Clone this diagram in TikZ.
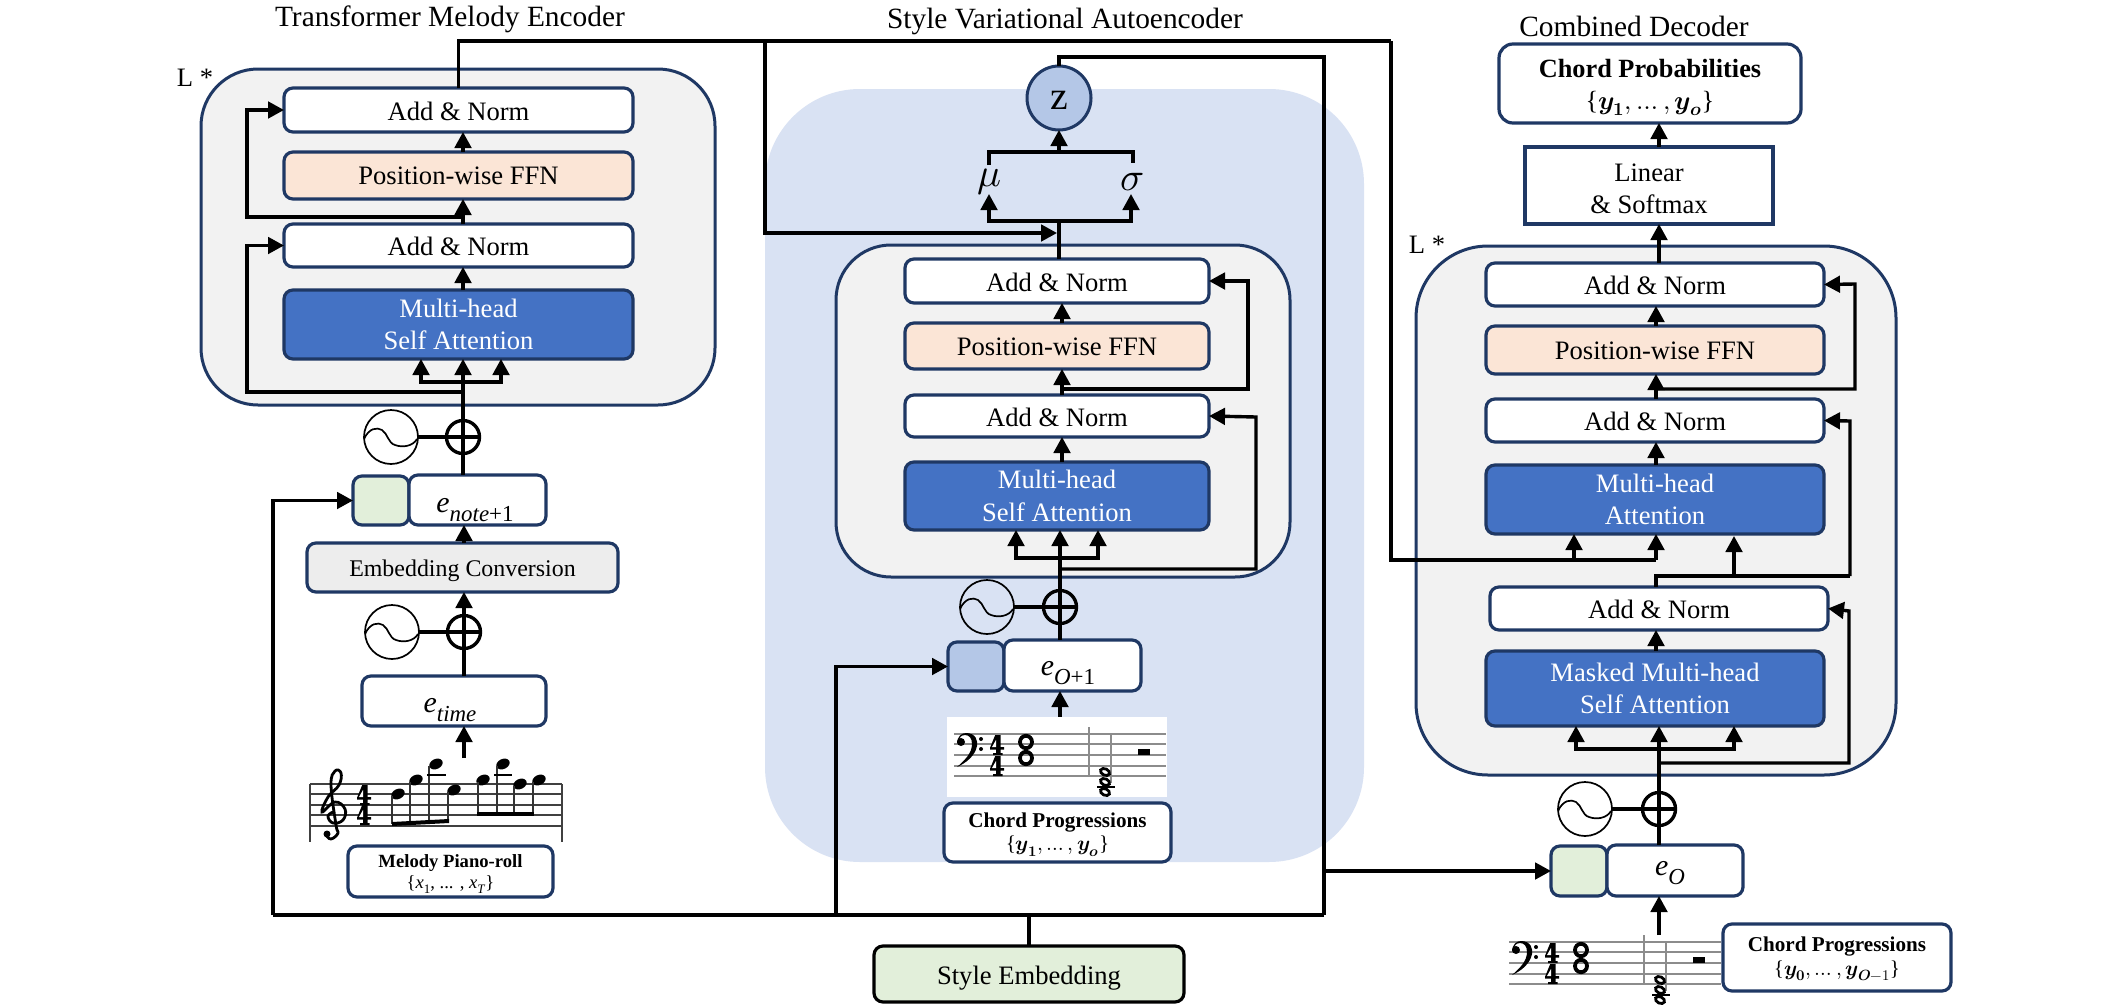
\documentclass[tikz,border=0pt]{standalone}
\usepackage{amsmath}
\usepackage{fontspec}
\usepackage{unicode-math}
\setmainfont{Liberation Serif}
\setmathfont{Latin Modern Math}
\usetikzlibrary{arrows.meta,calc,shapes.geometric}
\definecolor{navy}{HTML}{1F3864}
\definecolor{gpanel}{HTML}{F2F2F2}
\definecolor{bpanel}{HTML}{D9E2F3}
\definecolor{mha}{HTML}{4472C4}
\definecolor{ffn}{HTML}{FBE5D6}
\definecolor{lgreen}{HTML}{E2EFDA}
\definecolor{lblue}{HTML}{B4C7E7}
\definecolor{conv}{HTML}{EDEDED}
\definecolor{staff}{HTML}{8C8C8C}
\newcommand{\fs}[1]{\fontsize{#1}{#1}\selectfont}
\newcommand{\lowr}[2]{\raisebox{-.28em}{\fontsize{#1}{#1}\selectfont #2}}
\newcommand{\bx}[8][1.3]{\node[#7,minimum width={(#5-#3)*1bp},minimum height={(#6-#4)*1bp}] (#2) at ({(#3+#5)/2},{(#4+#6)/2}) {};
  \node[#7,draw=none,fill=none] (#2T) at ({(#3+#5)/2},{(#4+#6)/2+#1}) {#8};}
\newcommand{\oscn}[3]{\node[oscnode] (#1) at (#2,#3) {};
  \begin{scope}[shift={(#2,#3)}]
  \draw[line width=1.7bp] (-27,2) .. controls (-22,-9) and (-14,-10) .. (-9,-7) .. controls (-3,-3) and (-3,6) .. (4,8) .. controls (12,11) and (22,9) .. (26,2);
  \end{scope}}
\newcommand{\timefour}[2]{%
  \begin{scope}[shift={(#1,#2)}]
  \fill (5.2,0) -- (10.5,0) -- (10.5,12) -- (14,12) -- (14,14.5) -- (10.5,14.5) -- (10.5,18) -- (12.5,18) -- (12.5,20) -- (3,20) -- (3,18) -- (6,18) -- (6,14.5) -- (0,14.5) -- (0,12.8) -- cycle;
  \fill[white] (6,5) -- (6,12) -- (2,12) -- cycle;
  \end{scope}}
\newcommand{\chordscore}[2]{%
  \begin{scope}[shift={(#1,#2)}]
  \foreach \yy in {734,744,755,766,776} {\draw[staffline] (954,\yy) -- (1166,\yy);}
  \fill (957,744) .. controls (957,736) and (962,733) .. (966,733) .. controls (976,733) and (978,741) .. (977,746) .. controls (975,756) and (966,763) .. (957,767) .. controls (965,760) and (972,753) .. (972,744) .. controls (972,738) and (969,735) .. (965,735) .. controls (961,735) and (959,738) .. (959,740) -- cycle;
  \fill (961,742) circle[radius=4];
  \fill (981,739) circle[radius=2];
  \fill (981,749) circle[radius=2];
  \timefour{990}{735}
  \timefour{990}{756}
  \draw[line width=3.8bp] (1026,742) circle[x radius=6,y radius=6.2];
  \draw[line width=3.8bp] (1026,758) circle[x radius=6,y radius=6.2];
  \draw[staffline] (1089,727) -- (1089,776);
  \draw[staffline] (1111,733) -- (1111,783);
  \draw[line width=1.6bp] (1097,787) -- (1115,787);
  \foreach \yy in {772,782,792} {\draw[line width=2.8bp,rotate around={-25:(1105,\yy)}] (1105,\yy) circle[x radius=4.8,y radius=3.2];}
  \fill (1138,749) rectangle (1150,755);
  \end{scope}}
\tikzset{
  conn/.style={line width=3.4bp,black,line join=miter},
  arr/.style={conn,-{Triangle[length=16bp,width=16.5bp]}},
  base/.style={draw=navy,line width=3.2bp,rounded corners=9bp,inner sep=0pt,outer sep=0pt,align=center,font=\fs{26.7}},
  white box/.style={base,fill=white},
  ffn box/.style={base,fill=ffn},
  mha box/.style={base,fill=mha,text=white,font=\fontsize{26.7}{32.5}\selectfont},
  outer panel/.style={draw=navy,line width=3bp,fill=gpanel,inner sep=0pt,outer sep=0pt},
  plusnode/.style={circle,draw=black,line width=3.4bp,minimum size=33bp,inner sep=0pt,outer sep=0pt},
  oscnode/.style={circle,draw=black,line width=1.7bp,minimum size=54bp,inner sep=0pt,outer sep=0pt},
  staffline/.style={line width=1.6bp,staff},
  title/.style={font=\fs{29.5},inner sep=0pt},
  small label/.style={font=\fs{26.7},inner sep=0pt},
  emb text/.style={inner sep=0pt,font=\fs{30}},
}
\begin{document}
\begin{tikzpicture}[x=1bp,y=-1bp]
\useasboundingbox (0,0) rectangle (2108,1005);
\fill[white] (0,0) rectangle (2108,1005);

% titles
\node[title] (t1) at (450,19) {Transformer Melody Encoder};
\node[title] (t2) at (1065,21) {Style Variational Autoencoder};
\node[title] (t3) at (1634,26) {Combined Decoder};
\node[small label] (l1) at (195,78) {L *};
\node[small label] (l2) at (1427,245) {L *};

% panels
\bx{vPanel}{765}{89}{1364}{862}{fill=bpanel,rounded corners=95bp,inner sep=0pt,outer sep=0pt}{}
\bx{eOuter}{201}{69}{715}{405}{outer panel,rounded corners=57bp}{}
\bx{vOuter}{836}{245}{1290}{577}{outer panel,rounded corners=55bp}{}
\bx{dOuter}{1416}{246}{1896}{775}{outer panel,rounded corners=72bp}{}

% encoder boxes
\bx{eANa}{284}{88}{633}{132}{white box}{Add \& Norm}
\bx[0]{eFFN}{284}{152}{633}{199}{ffn box}{Position-wise FFN}
\bx{eANb}{284}{224}{633}{267}{white box}{Add \& Norm}
\bx[0]{eMHA}{284}{290}{633}{359}{mha box}{Multi-head\\Self Attention}
\bx{eStyle}{353}{476}{409}{525}{base,fill=lgreen}{}
\bx{eNote}{409}{475}{546}{525}{white box}{}
\bx[3.5]{eConv}{307}{543}{618}{592}{base,fill=conv,font=\fs{24}}{Embedding Conversion}
\bx{eTime}{362}{676}{546}{726}{white box}{}
\bx[2.7]{ePiano}{348}{846}{553}{897}{white box,font=\fontsize{18.7}{23}\selectfont}{\textbf{Melody Piano-roll}\\[-2.7bp]\{\textit{x}\lowr{13}{1}, ... , \textit{x}\lowr{13}{\textit{T}}\}}
\node[emb text] (eNoteT) at (475,510) {\textit{e}\lowr{23}{\textit{note}+1}};
\node[emb text] (eTimeT) at (450,710) {\textit{e}\lowr{23}{\textit{time}}};
\oscn{eOsc}{391}{437}
\node[plusnode] (ePlus) at (463,437) {};
\oscn{eOscb}{392}{632}
\node[plusnode] (ePlusb) at (464,632) {};

% VAE boxes
\bx{vANa}{905}{259}{1209}{303}{white box}{Add \& Norm}
\bx{vFFN}{905}{323}{1209}{369}{ffn box}{Position-wise FFN}
\bx{vANb}{905}{395}{1209}{437}{white box}{Add \& Norm}
\bx[0]{vMHA}{905}{462}{1209}{530}{mha box}{Multi-head\\Self Attention}
\bx{vStyle}{948}{642}{1004}{691}{base,fill=lblue}{}
\bx{vEmb}{1004}{640}{1141}{691}{white box}{}
\node[emb text] (vEmbT) at (1068,673) {\textit{e}\lowr{23}{\textit{O}+1}};
\node[fill=white,minimum width=220bp,minimum height=80bp,inner sep=0pt] (vScore) at (1057,757) {};
\bx[2]{vChord}{944}{803}{1171}{862}{white box,font=\fontsize{21.2}{28}\selectfont}{\textbf{Chord Progressions}\\[-4.6bp]\{$\symbfit{y}_{\symbf{1}},\dots,\symbfit{y}_{\symbfit{o}}$\}}
\oscn{vOsc}{987}{607}
\node[plusnode] (vPlus) at (1060,607) {};
\node[circle,draw=navy,line width=3bp,fill=lblue,minimum size=64bp,inner sep=0pt,outer sep=0pt] (z) at (1059,98) {};
\node[inner sep=0pt,font=\fs{40}] (zT) at (1059,100) {z};
\node[inner sep=0pt,font=\fs{40}] (mu) at (990,182) {$\mu$};
\node[inner sep=0pt,font=\fs{40}] (sig) at (1132,182) {$\sigma$};
\bx[4]{style}{874}{946}{1184}{1002}{base,draw=black,fill=lgreen}{Style Embedding}

% decoder boxes
\bx[4]{dProb}{1499}{44}{1801}{123}{white box,rounded corners=14bp,font=\fontsize{26.4}{35}\selectfont}{\textbf{Chord Probabilities}\\[-3bp]\{$\symbfit{y}_{\symbf{1}},\dots,\symbfit{y}_{\symbfit{o}}$\}}
\bx[3.5]{dLin}{1525}{147}{1773}{224}{white box,rounded corners=0pt,font=\fontsize{26.7}{32.5}\selectfont}{Linear\\\& Softmax}
\bx{dANa}{1486}{263}{1824}{306}{white box}{Add \& Norm}
\bx{dFFN}{1486}{326}{1824}{374}{ffn box}{Position-wise FFN}
\bx{dANb}{1486}{399}{1824}{442}{white box}{Add \& Norm}
\bx[0]{dMHA}{1486}{465}{1824}{534}{mha box}{Multi-head\\Attention}
\bx{dANc}{1490}{587}{1828}{630}{white box}{Add \& Norm}
\bx[0]{dMask}{1486}{651}{1824}{726}{mha box}{Masked Multi-head\\Self Attention}
\bx{dStyle}{1551}{846}{1607}{896}{base,fill=lgreen}{}
\bx{dEmb}{1607}{845}{1743}{896}{white box}{}
\node[emb text] (dEmbT) at (1670,873) {\textit{e}\lowr{23}{\textit{O}}};
\bx[1.5]{dChord}{1723}{924}{1951}{991}{white box,font=\fontsize{21.2}{28}\selectfont}{\textbf{Chord Progressions}\\[-4.6bp]\{$\symbfit{y}_{\symbf{0}},\dots,\symbfit{y}_{\symbfit{O-1}}$\}}
\oscn{dOsc}{1585}{809}
\node[plusnode] (dPlus) at (1659,809) {};

% melody score
\foreach \yy in {784,794,805,815,826} {\draw[line width=1.6bp,black!75] (310,\yy) -- (562,\yy);}
\draw[line width=1.6bp,black!75] (310,784) -- (310,842);
\draw[line width=1.6bp,black!75] (562,784) -- (562,842);
\draw[line width=2.8bp] plot[smooth,tension=.7] coordinates {(335,811) (328,816) (333,823) (343,820) (345,809) (335,802) (322,812) (328,797) (339,785) (341,773) (335,771) (331,785) (336,825) (338,833) (331,839) (326,835)};
\fill (327,834) circle[radius=3.5];
\timefour{357}{785}
\timefour{357}{805}
\foreach \nx/\ny in {398/794,416/780,436/764,454/790,483/780,503/764,520/784,539/780}{
  \fill[rotate around={25:(\nx,\ny)}] (\nx,\ny) circle[x radius=7,y radius=5];
}
\foreach \sx/\sy/\ey in {392/796/824,410/782/824,429/766/823,448/792/822}{\draw[line width=1.6bp,black!80] (\sx,\sy) -- (\sx,\ey);}
\foreach \sx/\sy in {478/782,497/766,514/786,533/782}{\draw[line width=1.6bp,black!80] (\sx,\sy) -- (\sx,814);}
\fill (392,822) -- (449,819) -- (449,823) -- (392,826) -- cycle;
\fill (477,812) rectangle (534,816);
\draw[line width=1.8bp] (427,775) -- (446,775);
\draw[line width=1.8bp] (494,775) -- (512,775);

% chord scores
\chordscore{0}{0}
\chordscore{555}{208}

% helper coordinates
\coordinate (topl) at (458.5,41);
\coordinate (topm) at (765,41);
\coordinate (topr) at (1391,41);
\coordinate (busl) at (273,915);
\coordinate (busv) at (836,915);
\coordinate (busr) at (1324,915);
\coordinate (zr) at (1324,57);
\coordinate (xe) at (463,0);
\coordinate (xel) at (421,0);
\coordinate (xer) at (501,0);
\coordinate (xee) at (464,0);
\coordinate (xw) at (247,0);
\coordinate (xv) at (1060,0);
\coordinate (xvu) at (1062,0);
\coordinate (xvl) at (1016,0);
\coordinate (xvr) at (1098,0);
\coordinate (xd) at (1656,0);
\coordinate (xdc) at (1659,0);
\coordinate (xdl) at (1576,0);
\coordinate (xdr) at (1734,0);
\coordinate (xda) at (1574,0);

% encoder connectors
\draw[arr] (xe |- eFFN.north) -- (xe |- eANa.south);
\draw[arr] (xe |- eANb.north) -- (xe |- eFFN.south);
\draw[arr] (xe |- eMHA.north) -- (xe |- eANb.south);
\draw[arr] (ePlus.south) -- (xe |- eMHA.south);
\draw[conn] (ePlus.south) -- (xe |- eNote.north);
\draw[conn] (eOsc.east) -- (ePlus.east);
\draw[arr] (463,382) -| (xel |- eMHA.south);
\draw[arr] (463,382) -| (xer |- eMHA.south);
\draw[arr] (463,392) -| (xw |- eANb.west) -- (eANb.west);
\draw[arr] (463,217) -| (xw |- eANa.west) -- (eANa.west);
\draw[arr] (xee |- eConv.north) -- (xee |- eNote.south);
\draw[arr] (xee |- eTime.north) -- (xee |- eConv.south);
\draw[conn] (eOscb.east) -- (ePlusb.east);
\draw[arr] (464,758) -- (xee |- eTime.south);

% top line
\draw[conn] (eANa.north) -- (topl) -- (topr);
\draw[arr] (topm) -- (765,233) -- (vANa.north |- 0,233);
\draw[conn] (topr) -- (topr |- 0,560) -- (xd |- 0,560);
\draw[arr] (xda |- 0,560) -- (xda |- dMHA.south);
\draw[arr] (xd |- 0,560) -- (xd |- dMHA.south);

% bus
\draw[conn] (style.north) -- (style.north |- busl);
\draw[conn] (busl) -- (busr);
\draw[arr] (busl) -- (busl |- eStyle.west) -- (eStyle.west);
\draw[arr] (busv) -- (busv |- vStyle.west) -- (vStyle.west);
\draw[conn] (busr) -- (zr) -- (z.north |- zr) -- (z.north);
\draw[arr] (1324,871) -- (dStyle.west);

% VAE connectors
\draw[arr] (xvu |- vFFN.north) -- (xvu |- vANa.south);
\draw[arr] (xvu |- vANb.north) -- (xvu |- vFFN.south);
\draw[arr] (xvu |- vMHA.north) -- (xvu |- vANb.south);
\draw[arr] (vPlus.south) -- (xv |- vMHA.south);
\draw[conn] (vPlus.south) -- (xv |- vEmb.north);
\draw[conn] (vOsc.east) -- (vPlus.east);
\draw[arr] (1060,558) -| (xvl |- vMHA.south);
\draw[arr] (1060,558) -| (xvr |- vMHA.south);
\draw[arr] (1060,569) -| (1256,417) -- (vANb.east);
\draw[arr] (1062,389) -| (1248,281) -- (vANa.east);
\draw[arr] (xv |- vScore.north) -- (xv |- vEmb.south);
\draw[conn] (z.north |- vANa.north) -- (z.north |- 0,221);
\draw[arr] (z.north |- 0,221) -| (989,194);
\draw[arr] (z.north |- 0,221) -| (1131,194);
\draw[arr] (z.north |- 0,152) -- (z.south);
\draw[conn] (989,165) -- (989,152) -- (1133,152) -- (1133,163);

% decoder connectors
\draw[arr] (xdc |- dLin.north) -- (xdc |- dProb.south);
\draw[arr] (xdc |- dANa.north) -- (xdc |- dLin.south);
\draw[arr] (xd |- dFFN.north) -- (xd |- dANa.south);
\draw[arr] (xd |- dANb.north) -- (xd |- dFFN.south);
\draw[arr] (xd |- dMHA.north) -- (xd |- dANb.south);
\draw[arr] (xd |- dMask.north) -- (xd |- dANc.south);
\draw[conn] (xd |- dANc.north) -- (xd |- 0,576) -- (1850,576);
\draw[arr] (xdr |- 0,576) -- (xdr |- 0,536);
\draw[arr] (1850,576) -- (1850,421) -- (dANb.east);
\draw[arr] (1656,389) -| (1855,284) -- (dANa.east);
\draw[arr] (1659,763) -| (1849,611) -- (dANc.east);
\draw[arr] (dPlus.south) -- (xdc |- dMask.south);
\draw[conn] (dPlus.south) -- (xdc |- dEmb.north);
\draw[conn] (dOsc.east) -- (dPlus.east);
\draw[arr] (1659,749) -| (xdl |- dMask.south);
\draw[arr] (1659,749) -| (xdr |- dMask.south);
\draw[arr] (1659,935) -- (xdc |- dEmb.south);
\end{tikzpicture}
\end{document}
